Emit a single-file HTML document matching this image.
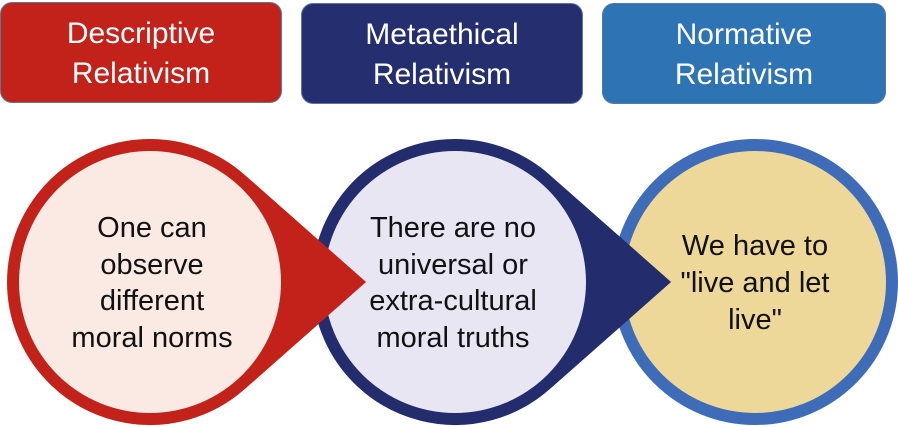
<!DOCTYPE html>
<html><head><style>
body{margin:0;width:898px;height:427px;background:#fff;overflow:hidden;position:relative;font-family:"Liberation Sans",sans-serif}
.b{position:absolute;top:2px;height:101px;width:282px;border-radius:12px;border:1px solid #5a78a0;box-sizing:border-box;color:#fff;font-size:30px;line-height:40px;text-align:center;padding-top:11px}
</style></head><body>
<div class="b" style="left:0;background:#c3221b">Descriptive<br>Relativism</div>
<div class="b" style="left:301px;top:3px;background:#252f70">Metaethical<br>Relativism</div>
<div class="b" style="left:602px;top:3px;width:284px;background:#2e74b5">Normative<br>Relativism</div>
<svg width="898" height="427" style="position:absolute;left:0;top:0" font-family="Liberation Sans, sans-serif" font-size="29" text-anchor="middle" fill="#111">
<circle cx="755" cy="282" r="137" fill="#edd89a" stroke="#3e6cb8" stroke-width="12"/>
<g transform="translate(305,0)">
<path d="M150,145 A137,137 0 1 0 240.6,384.8 L357,282 L240.6,179.2 A137,137 0 0 0 150,145Z" fill="#232c6c" stroke="#232c6c" stroke-width="12" stroke-linejoin="miter"/>
<circle cx="150" cy="282" r="131" fill="#e7e6f2"/>
</g>
<path d="M150,145 A137,137 0 1 0 240.6,384.8 L357,282 L240.6,179.2 A137,137 0 0 0 150,145Z" fill="#c3221b" stroke="#c3221b" stroke-width="12" stroke-linejoin="miter"/>
<circle cx="150" cy="282" r="131" fill="#fbeae4"/>
<text x="152" y="237">One can</text><text x="152" y="274">observe</text><text x="152" y="310">different</text><text x="152" y="347">moral norms</text>
<text x="453" y="237">There are no</text><text x="453" y="274">universal or</text><text x="453" y="310">extra-cultural</text><text x="453" y="347">moral truths</text>
<text x="755" y="255">We have to</text><text x="755" y="292">"live and let</text><text x="755" y="329">live"</text>
</svg>
</body></html>
